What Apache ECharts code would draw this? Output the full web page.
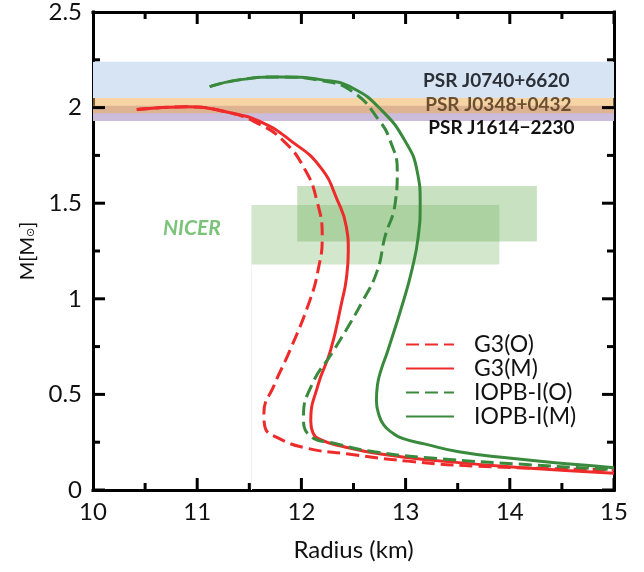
<!DOCTYPE html>
<html>
<head>
<meta charset="utf-8">
<script src="https://cdn.jsdelivr.net/npm/echarts@6/dist/echarts.min.js"></script>
<style>html,body{margin:0;padding:0;background:#fff}#c{width:644px;height:572px}</style>
</head>
<body>
<div id="c"></div>
<script>
// ---- data (radius km, mass Msun) ----
const g3O = [[10.42,1.99],[10.9,2.004],[11.3,1.975],[11.57,1.92],[11.82,1.83],[12.03,1.68],[12.15,1.51],[12.20,1.32],[12.16,1.15],[12.08,0.99],[11.89,0.73],[11.74,0.55],[11.64,0.40],[11.65,0.33],[11.77,0.274],[12.05,0.219],[12.45,0.188],[13.02,0.151],[13.67,0.125],[15.0,0.105]];
const g3M = [[10.42,1.99],[10.9,2.004],[11.34,1.97],[11.63,1.92],[11.89,1.83],[12.18,1.69],[12.35,1.51],[12.43,1.38],[12.45,1.25],[12.43,1.10],[12.39,0.99],[12.28,0.73],[12.16,0.55],[12.09,0.36],[12.11,0.30],[12.19,0.262],[12.38,0.23],[12.76,0.188],[13.35,0.151],[14.16,0.115],[15.0,0.088]];
const iopbO = [[11.12,2.11],[11.4,2.145],[11.79,2.16],[12.2,2.14],[12.5,2.08],[12.75,1.93],[12.85,1.83],[12.92,1.67],[12.90,1.50],[12.80,1.32],[12.73,1.15],[12.59,0.99],[12.31,0.73],[12.10,0.55],[12.02,0.38],[12.07,0.29],[12.35,0.24],[12.70,0.20],[13.25,0.167],[14.16,0.133],[15.0,0.107]];
const iopbM = [[11.12,2.11],[11.4,2.145],[11.79,2.16],[12.2,2.145],[12.5,2.10],[12.78,1.98],[12.99,1.83],[13.11,1.67],[13.14,1.50],[13.12,1.32],[13.06,1.15],[12.98,0.99],[12.83,0.73],[12.76,0.62],[12.73,0.55],[12.72,0.47],[12.74,0.40],[12.79,0.34],[12.87,0.30],[12.97,0.27],[13.19,0.24],[13.51,0.20],[13.99,0.167],[14.64,0.133],[15.0,0.117]];
const seriesNames = ['G3(O)','G3(M)','IOPB-I(O)','IOPB-I(M)'];
// pulsar mass bands [Mlow, Mhigh]
const bandNames = ['PSR J0740+6620','PSR J0348+0432','PSR J1614\u22122230'];
const bandRanges = [[2.05,2.24],[1.97,2.05],[1.93,2.01]];
// NICER boxes [Rmin, Rmax, Mmin, Mmax]
const nicerBoxes = [[11.52,13.90,1.18,1.49],[11.96,14.26,1.30,1.59]];
// axis ticks
const xTicks = [10,11,12,13,14,15];
const xMinorTicks = [10.5,11.5,12.5,13.5,14.5];
const yTicks = [0,0.5,1,1.5,2,2.5];
const yMinorTicks = [0.25,0.75,1.25,1.75,2.25];

const RED = '#ef2a2a', GREEN = '#3a8a3e';
const FONT = 'Lato';
const X0 = xTicks[0], X1 = xTicks[xTicks.length-1], Y0 = yTicks[0], Y1 = yTicks[yTicks.length-1];

const chart = echarts.init(document.getElementById('c'), null, {renderer:'canvas'});

function axisCommon(){
  return {
    axisLine:{show:true,onZero:false,lineStyle:{color:'#000',width:3,cap:'square'}},
    axisTick:{show:false},
    minorTick:{show:false},
    splitLine:{show:false}
  };
}

const bandColors = ['#d7e4f3','rgba(239,169,73,0.5)','#cbbcdb'];
const bandOrder = [0,2,1];

const option = {
  animation:false,
  backgroundColor:'#fff',
  grid:{show:false,left:93,right:30,top:11,bottom:82},
  xAxis:[
    Object.assign({type:'value',min:X0,max:X1,interval:1,position:'bottom',
      name:'Radius (km)',nameLocation:'middle',nameGap:48,
      nameTextStyle:{fontFamily:FONT,fontSize:24,color:'#111'},
      axisLabel:{fontFamily:FONT,fontSize:24,color:'#111',margin:10}},axisCommon()),
    Object.assign({type:'value',min:X0,max:X1,interval:1,position:'top',
      axisLabel:{show:false}},axisCommon())
  ],
  yAxis:[
    Object.assign({type:'value',min:Y0,max:Y1,interval:0.5,position:'left',
      name:'M[M{s|\u2299}]',nameLocation:'middle',nameGap:49,
      nameTextStyle:{fontFamily:FONT,fontSize:20,color:'#111',
        rich:{s:{fontFamily:'DejaVu Sans',fontSize:11,color:'#111',padding:[7,0,0,0]}}},
      axisLabel:{fontFamily:FONT,fontSize:24,color:'#111',margin:11}},axisCommon()),
    Object.assign({type:'value',min:Y0,max:Y1,interval:0.5,position:'right',
      axisLabel:{show:false}},axisCommon())
  ],
  legend:{
    orient:'vertical',left:400,top:328,itemWidth:48,itemHeight:14,itemGap:1,
    data:seriesNames,
    itemStyle:{color:'rgba(255,255,255,0)',borderColor:'rgba(255,255,255,0)',borderWidth:0},
    textStyle:{fontFamily:FONT,fontSize:23,color:'#111',padding:[0,0,0,15],lineHeight:22}
  },
  series:[
    {type:'line',name:'_bands',data:[],silent:true,z:1,
      markArea:{silent:true,data:bandOrder.map(i=>[
        {yAxis:bandRanges[i][0],xAxis:X0,itemStyle:{color:bandColors[i]}},
        {yAxis:bandRanges[i][1],xAxis:X1}])}},
    {type:'line',name:'_nicer',data:[],silent:true,z:1,
      markArea:{silent:true,data:nicerBoxes.map((b,i)=>[
        {xAxis:b[0],yAxis:b[2],itemStyle:{color:i===0?'rgba(110,175,90,0.30)':'rgba(110,175,90,0.38)'}},
        {xAxis:b[1],yAxis:b[3]}])},
      markLine:{silent:true,symbol:'none',label:{show:false},
        lineStyle:{color:'#f0f0f0',width:1,type:'solid'},
        data:[[{coord:[nicerBoxes[0][0],0]},{coord:[nicerBoxes[0][0],nicerBoxes[0][2]]}]]}},
    {type:'line',name:seriesNames[0],data:g3O,showSymbol:false,symbol:'none',smooth:0.5,z:3,
      lineStyle:{color:RED,width:3,type:[13,6]},itemStyle:{color:RED}},
    {type:'line',name:seriesNames[1],data:g3M,showSymbol:false,symbol:'none',smooth:0.5,z:3,
      lineStyle:{color:RED,width:3},itemStyle:{color:RED}},
    {type:'line',name:seriesNames[2],data:iopbO,showSymbol:false,symbol:'none',smooth:0.5,z:3,
      lineStyle:{color:GREEN,width:3,type:[13,6]},itemStyle:{color:GREEN}},
    {type:'line',name:seriesNames[3],data:iopbM,showSymbol:false,symbol:'none',smooth:0.5,z:3,
      lineStyle:{color:GREEN,width:3},itemStyle:{color:GREEN}}
  ]
};
chart.setOption(option);

const toPx = (pt)=>chart.convertToPixel({xAxisIndex:0,yAxisIndex:0},pt);
// pixel-to-data factors from the axis scales, for tick lengths/widths
const pxPerX = toPx([X0+1,Y0])[0]-toPx([X0,Y0])[0];
const pxPerY = toPx([X0,Y0])[1]-toPx([X0,Y0+1])[1];
const tickAreas = [];
const TW = 3;
function addXTick(v,L){
  const d = L/pxPerY, w = TW/2/pxPerX;
  tickAreas.push([{xAxis:v-w,yAxis:Y0},{xAxis:v+w,yAxis:Y0+d}]);
  tickAreas.push([{xAxis:v-w,yAxis:Y1-d},{xAxis:v+w,yAxis:Y1}]);
}
function addYTick(v,L){
  const d = L/pxPerX, w = TW/2/pxPerY;
  tickAreas.push([{xAxis:X0,yAxis:v-w},{xAxis:X0+d,yAxis:v+w}]);
  tickAreas.push([{xAxis:X1-d,yAxis:v-w},{xAxis:X1,yAxis:v+w}]);
}
xTicks.forEach(v=>addXTick(v,12)); xMinorTicks.forEach(v=>addXTick(v,7));
yTicks.forEach(v=>addYTick(v,12)); yMinorTicks.forEach(v=>addYTick(v,7));
option.series.push({type:'line',name:'_ticks',data:[],silent:true,z:6,
  markArea:{silent:true,itemStyle:{color:'#000',opacity:1},emphasis:{disabled:true},data:tickAreas}});

// annotation texts anchored in data coordinates
const notes = [
  {text:bandNames[0],at:[13.87,2.14],color:'#2b2f38',style:'normal',size:19},
  {text:bandNames[1],at:[13.89,2.015],color:'#6b4f30',style:'normal',size:19},
  {text:bandNames[2],at:[13.92,1.895],color:'#111',style:'normal',size:19},
  {text:'NICER',at:[10.95,1.37],color:'#7cc37a',style:'italic',size:21}
];
option.graphic = {elements:notes.map(n=>{
  const p = toPx(n.at);
  return {type:'text',x:p[0],y:p[1],z:10,silent:true,
    style:{text:n.text,fill:n.color,font:n.style+' bold '+n.size+'px '+FONT,align:'center',verticalAlign:'middle'}};
})};
chart.setOption(option);
</script>
</body>
</html>
